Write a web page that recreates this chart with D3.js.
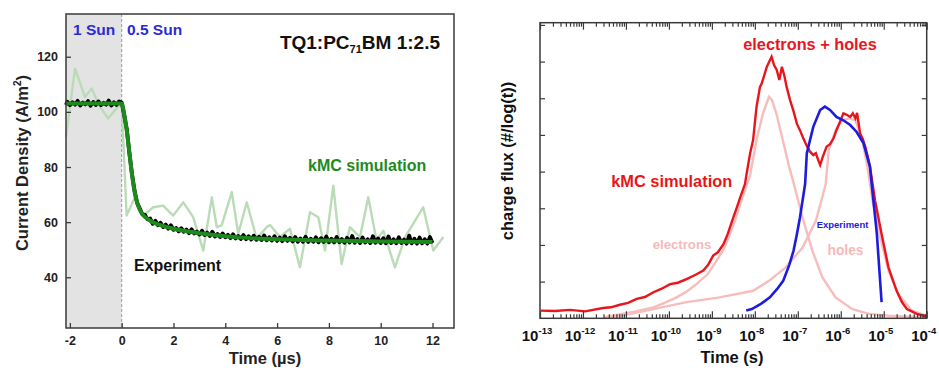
<!DOCTYPE html>
<html><head><meta charset="utf-8">
<script src="https://cdn.jsdelivr.net/npm/d3@7"></script>
<style>
body{margin:0;background:#fff;}
text{font-family:"Liberation Sans",Arial,sans-serif;font-weight:bold;}
</style></head>
<body><svg id="c" width="939" height="368"></svg>
<script>
// ---------- LEFT PANEL DATA ----------
const leftXTicks = [-2, 0, 2, 4, 6, 8, 10, 12];
const leftYTicks = [40, 60, 80, 100, 120];
// Experiment (time µs, current density A/m²)
const experiment = [
[-2.15,102.5],[-2.1,103.7],[-2.0,102.4],[-1.9,103.5],[-1.8,102.6],[-1.7,104.0],[-1.6,102.3],[-1.5,103.4],[-1.4,102.7],[-1.3,103.9],[-1.2,102.2],
[-1.1,103.6],[-1.0,102.5],[-0.9,103.8],[-0.8,102.4],[-0.7,103.3],[-0.6,102.6],[-0.5,104.1],[-0.4,102.3],[-0.3,103.5],[-0.2,102.5],[-0.1,103.8],
[0.0,103.4],[0.1,98.6],[0.2,93.5],[0.3,84.8],[0.4,77.4],[0.5,71.2],[0.6,66.9],[0.7,64.9],[0.8,62.8],[0.9,62.6],[1.0,61.0],
[1.1,61.3],[1.2,59.4],[1.3,60.5],[1.4,58.9],[1.5,59.8],[1.6,58.2],[1.7,59.1],[1.8,57.6],[1.9,58.9],[2.0,57.2],
[2.1,57.9],[2.2,56.7],[2.3,57.8],[2.4,56.5],[2.5,57.3],[2.6,56.0],[2.7,57.4],[2.8,55.9],[2.9,56.6],[3.0,55.5],
[3.1,56.9],[3.2,55.3],[3.3,56.2],[3.4,55.0],[3.5,56.5],[3.6,54.8],[3.7,55.7],[3.8,54.6],[3.9,55.9],[4.0,54.5],
[4.1,55.4],[4.2,54.2],[4.3,55.6],[4.4,54.1],[4.5,55.0],[4.6,53.9],[4.7,55.3],[4.8,53.8],[4.9,54.9],[5.0,53.7],
[5.1,55.1],[5.2,53.6],[5.3,54.7],[5.4,53.5],[5.5,55.2],[5.6,53.4],[5.7,54.5],[5.8,53.3],[5.9,54.9],[6.0,53.2],
[6.1,54.4],[6.2,53.1],[6.3,54.9],[6.4,53.2],[6.5,54.3],[6.6,53.0],[6.7,54.6],[6.8,52.9],[6.9,54.1],[7.0,52.9],
[7.1,54.7],[7.2,52.8],[7.3,54.0],[7.4,52.9],[7.5,54.5],[7.6,52.7],[7.7,54.2],[7.8,52.8],[7.9,54.8],[8.0,52.7],
[8.1,54.0],[8.2,52.6],[8.3,54.6],[8.4,52.7],[8.5,53.9],[8.6,52.5],[8.7,54.3],[8.8,52.6],[8.9,55.0],[9.0,52.5],
[9.1,53.9],[9.2,52.4],[9.3,54.4],[9.4,52.6],[9.5,53.8],[9.6,52.4],[9.7,54.9],[9.8,52.5],[9.9,54.1],[10.0,52.4],
[10.1,54.2],[10.2,52.3],[10.3,54.8],[10.4,52.4],[10.5,53.8],[10.6,52.3],[10.7,54.5],[10.8,52.4],[10.9,53.7],[11.0,52.2],
[11.1,55.1],[11.2,52.3],[11.3,54.0],[11.4,52.2],[11.5,54.4],[11.6,52.3],[11.7,53.8],[11.8,52.2],[11.9,54.6],[12.0,52.4]
];
// Smooth fit (green)
const fitT = [-2.15, 0, 0.1, 0.2, 0.3, 0.4, 0.5, 0.6, 0.7, 0.85, 1.0, 1.2, 1.5, 2, 2.5, 3, 3.5, 4, 5, 6, 7, 8, 10, 12];
const fitV = [103, 103, 99, 93, 85, 77, 71, 67, 64.5, 62.3, 61.2, 60, 58.9, 57.6, 56.7, 56, 55.4, 54.9, 54.2, 53.8, 53.5, 53.3, 53, 52.8];
// kMC simulation (light green)
const kmcT = [-2.15,-1.80,-1.42,-1.16,-0.84,-0.52,-0.26,0,0.19,0.51,0.83,1.22,1.6,1.99,2.38,2.76,3.15,3.48,3.67,3.86,4.25,4.5,4.83,5.21,5.6,5.73,6.11,6.5,6.88,7.27,7.59,7.85,8.17,8.49,8.81,9.2,9.52,9.84,10.1,10.55,10.94,11.26,11.64,12.03,12.42];
const kmcV = [91,115.7,105.4,108.5,101.8,97.6,100.6,103,62.4,69,62.4,65.4,66,62.4,67.2,61.8,49.7,69,58.2,58.8,70.9,55.8,67.2,54,58.2,59,54.6,57.6,43.6,63.6,61.8,49.7,73.2,44.8,58.2,54.6,69,53.3,56.9,43.6,54.6,59.5,65.4,49.7,54.6];

// ---------- RIGHT PANEL DATA ----------
const rightXExps = [-13, -12, -11, -10, -9, -8, -7, -6, -5, -4];
const rightYTicks = [1, 2, 3, 4, 5, 6, 7, 8];
// log10(time/s), flux
const totalLogT = [-12.98,-12.65,-12.30,-11.95,-11.53,-11.35,-11.14,-10.95,-10.75,-10.56,-10.36,-10.18,-9.97,-9.79,-9.59,-9.39,-9.2,-9.09,-8.97,-8.86,-8.73,-8.63,-8.5,-8.41,-8.34,-8.23,-8.19,-8.11,-8.04,-7.96,-7.88,-7.84,-7.72,-7.61,-7.55,-7.49,-7.43,-7.37,-7.31,-7.26,-7.18,-7.1,-7.02,-6.95,-6.87,-6.79,-6.72,-6.64,-6.58,-6.52,-6.48,-6.42,-6.33,-6.25,-6.17,-6.1,-6.02,-5.94,-5.86,-5.78,-5.72,-5.66,-5.62,-5.55,-5.49,-5.43,-5.37,-5.32,-5.2,-5.05,-4.89,-4.7,-4.58,-4.46,-4.23,-4.0];
const totalV = [0.21,0.2,0.23,0.19,0.28,0.3,0.37,0.42,0.53,0.58,0.71,0.8,0.93,0.97,1.07,1.18,1.3,1.45,1.71,1.8,2.02,2.3,2.75,3.05,3.3,3.66,3.95,4.5,4.86,5.77,6.31,6.4,6.86,7.13,6.9,6.77,6.5,6.86,6.6,6.31,5.95,5.65,5.3,5.13,4.9,4.7,4.55,4.45,4.5,4.3,4.18,4.4,4.68,4.75,4.9,5.13,5.35,5.59,5.55,5.49,5.59,5.45,5.6,5.04,4.9,4.68,4.4,4.13,3.2,2.3,1.39,0.75,0.45,0.25,0.12,0.05];
const electronsLogT = [-11.5,-10.8,-10.36,-10.1,-9.82,-9.6,-9.36,-9.1,-8.89,-8.72,-8.58,-8.45,-8.34,-8.2,-8.11,-7.96,-7.81,-7.67,-7.6,-7.5,-7.35,-7.2,-7.09,-6.89,-6.66,-6.43,-6.12,-5.73,-5.34,-4.88,-4.5,-4.0];
const electronsV = [0.03,0.18,0.3,0.42,0.57,0.72,0.93,1.2,1.57,1.9,2.3,2.7,3.11,3.6,3.9,4.86,5.59,6.04,5.95,5.59,4.86,4.13,3.66,2.75,1.84,1.12,0.57,0.25,0.12,0.07,0.05,0.03];
const holesLogT = [-11.5,-11.06,-10.36,-9.59,-8.82,-8.04,-7.67,-7.28,-6.89,-6.58,-6.43,-6.35,-6.28,-6.12,-5.97,-5.81,-5.66,-5.5,-5.38,-5.26,-5.08,-4.89,-4.66,-4.35,-4.0];
const holesV = [0.03,0.08,0.25,0.44,0.57,0.75,1.02,1.39,1.93,2.66,3.3,3.66,4.59,5.13,5.4,5.45,5.4,4.86,4.13,3.2,2.2,1.3,0.66,0.21,0.07];
const expLogT = [-8.2,-8.07,-7.85,-7.65,-7.48,-7.34,-7.2,-7.1,-7.02,-6.95,-6.83,-6.79,-6.64,-6.48,-6.37,-6.25,-6.1,-5.94,-5.78,-5.63,-5.47,-5.32,-5.28,-5.16,-5.05];
const expV = [0.21,0.25,0.4,0.57,0.8,1.02,1.45,1.84,2.3,2.75,3.66,4.5,5.22,5.68,5.77,5.68,5.49,5.4,5.27,5.08,4.77,4.13,3.66,2.3,0.44];

const svg = d3.select("#c");
const frameColor = "#3a3a3a";

// ================= LEFT PANEL =================
const lx = d3.scaleLinear().domain([-2.15, 12.83]).range([66, 454]);
const ly = d3.scaleLinear().domain([21.6, 135.5]).range([328, 14]);
const L = svg.append("g");

L.append("rect").attr("x", lx(-2.15)).attr("y", ly(135.5))
  .attr("width", lx(0) - lx(-2.15)).attr("height", ly(21.6) - ly(135.5)).attr("fill", "#e3e3e3");
L.append("line").attr("x1", lx(0)).attr("x2", lx(0)).attr("y1", ly(135.5)).attr("y2", ly(21.6))
  .attr("stroke", "#9a9a9a").attr("stroke-width", 1).attr("stroke-dasharray", "3,2");

const xyLine = (xs, ys) => d3.line().x(d => xs(d[0])).y(d => ys(d[1]));

L.append("path").datum(kmcT.map((t, i) => [t, kmcV[i]]))
  .attr("d", xyLine(lx, ly)).attr("fill", "none").attr("stroke", "#b9dcb6").attr("stroke-width", 2.4)
  .attr("stroke-linejoin", "round");
L.append("path").datum(experiment).attr("d", xyLine(lx, ly))
  .attr("fill", "none").attr("stroke", "#000").attr("stroke-width", 3.8).attr("stroke-linejoin", "round");
L.append("path").datum(experiment).attr("d", xyLine(lx, ly))
  .attr("fill", "none").attr("stroke", "#000").attr("stroke-width", 1).attr("stroke-linejoin", "bevel");
L.append("path").datum(fitT.map((t, i) => [t, fitV[i]]))
  .attr("d", d3.line().x(d => lx(d[0])).y(d => ly(d[1])).curve(d3.curveMonotoneX))
  .attr("fill", "none").attr("stroke", "#1e8a1e").attr("stroke-width", 4);

L.append("rect").attr("x", 66).attr("y", 14).attr("width", 388).attr("height", 314)
  .attr("fill", "none").attr("stroke", frameColor).attr("stroke-width", 1.5);

const lxAxis = L.append("g").attr("transform", "translate(0,328)")
  .call(d3.axisBottom(lx).tickValues(leftXTicks).tickSize(-5).tickPadding(8).tickFormat(d => String(d)));
const lyAxis = L.append("g").attr("transform", "translate(66,0)")
  .call(d3.axisLeft(ly).tickValues(leftYTicks).tickSize(-5).tickPadding(8).tickFormat(d => String(d)));
[lxAxis, lyAxis].forEach(a => {
  a.select(".domain").remove();
  a.selectAll(".tick line").attr("stroke", frameColor).attr("stroke-width", 1.3);
  a.selectAll(".tick text").attr("font-size", 12.5).attr("fill", "#222").style("font-family", '"Liberation Sans",Arial,sans-serif').style("font-weight", "bold");
});

L.append("text").attr("x", 265).attr("y", 364).attr("text-anchor", "middle").attr("font-size", 16.5).attr("fill", "#222").text("Time (µs)");
const ylab = L.append("text").attr("transform", "translate(28,163) rotate(-90)").attr("text-anchor", "middle")
  .attr("font-size", 16.5).attr("fill", "#222");
ylab.append("tspan").text("Current Density (A/m");
ylab.append("tspan").attr("font-size", 10).attr("dy", -7).text("2");
ylab.append("tspan").attr("dy", 7).text(")");

L.append("text").attr("x", 73).attr("y", 35).attr("font-size", 15.5).attr("fill", "#2b2bd6").text("1 Sun");
L.append("text").attr("x", 127).attr("y", 35).attr("font-size", 15.5).attr("fill", "#2b2bd6").text("0.5 Sun");
const title = L.append("text").attr("x", 440).attr("y", 49).attr("text-anchor", "end").attr("font-size", 19).attr("fill", "#111");
title.append("tspan").text("TQ1:PC");
title.append("tspan").attr("font-size", 11).attr("dy", 4).text("71");
title.append("tspan").attr("dy", -4).text("BM 1:2.5");
L.append("text").attr("x", 308).attr("y", 170.5).attr("font-size", 16).attr("fill", "#1e8a1e").text("kMC simulation");
L.append("text").attr("x", 134).attr("y", 271).attr("font-size", 16).attr("fill", "#111").text("Experiment");

// ================= RIGHT PANEL =================
const rx = d3.scaleLog().domain([1e-13, 1e-4]).range([540, 926.7]);
const ry = d3.scaleLinear().domain([0, 8.06]).range([318.3, 22.7]);
const R = svg.append("g");
const lineLog = d3.line().x(d => rx(Math.pow(10, d[0]))).y(d => ry(d[1]));

R.append("path").datum(electronsLogT.map((t, i) => [t, electronsV[i]])).attr("d", lineLog)
  .attr("fill", "none").attr("stroke", "#f7bcbc").attr("stroke-width", 2.4);
R.append("path").datum(holesLogT.map((t, i) => [t, holesV[i]])).attr("d", lineLog)
  .attr("fill", "none").attr("stroke", "#f7bcbc").attr("stroke-width", 2.4);
R.append("path").datum(totalLogT.map((t, i) => [t, totalV[i]])).attr("d", lineLog)
  .attr("fill", "none").attr("stroke", "#e8161c").attr("stroke-width", 2.4);
R.append("path").datum(expLogT.map((t, i) => [t, expV[i]])).attr("d", lineLog)
  .attr("fill", "none").attr("stroke", "#1c1ce0").attr("stroke-width", 2.6);

R.append("rect").attr("x", 540).attr("y", 22.7).attr("width", 386.7).attr("height", 295.6)
  .attr("fill", "none").attr("stroke", frameColor).attr("stroke-width", 1.5);

const majors = rightXExps.map(e => Math.pow(10, e));
const minors = [];
rightXExps.slice(0, -1).forEach(e => { for (let m = 2; m <= 9; m++) minors.push(m * Math.pow(10, e)); });

function styleAxis(a) {
  a.select(".domain").remove();
  a.selectAll(".tick line").attr("stroke", frameColor).attr("stroke-width", 1.2);
}
styleAxis(R.append("g").attr("transform", "translate(0,318.3)")
  .call(d3.axisBottom(rx).tickValues(majors).tickSize(-7).tickFormat("")));
styleAxis(R.append("g").attr("transform", "translate(0,318.3)")
  .call(d3.axisBottom(rx).tickValues(minors).tickSize(-4).tickFormat("")));
styleAxis(R.append("g").attr("transform", "translate(0,22.7)")
  .call(d3.axisTop(rx).tickValues(majors).tickSize(-7).tickFormat("")));
styleAxis(R.append("g").attr("transform", "translate(0,22.7)")
  .call(d3.axisTop(rx).tickValues(minors).tickSize(-4).tickFormat("")));
styleAxis(R.append("g").attr("transform", "translate(540,0)")
  .call(d3.axisLeft(ry).tickValues(rightYTicks).tickSize(-5).tickFormat("")));
styleAxis(R.append("g").attr("transform", "translate(926.7,0)")
  .call(d3.axisRight(ry).tickValues(rightYTicks).tickSize(-5).tickFormat("")));

R.append("g").selectAll("text").data(rightXExps).join("text")
  .attr("x", e => rx(Math.pow(10, e)) - 3).attr("y", 340.5).attr("text-anchor", "middle")
  .attr("font-size", 15).attr("fill", "#111")
  .each(function (e) {
    const t = d3.select(this);
    t.append("tspan").text("10");
    t.append("tspan").attr("font-size", 9.5).attr("dy", -7).text(String(e));
  });

R.append("text").attr("x", 732).attr("y", 363).attr("text-anchor", "middle").attr("font-size", 16.5).attr("fill", "#111").text("Time (s)");
R.append("text").attr("transform", "translate(513,161) rotate(-90)").attr("text-anchor", "middle")
  .attr("font-size", 16.5).attr("fill", "#111").text("charge flux (#/log(t))");

R.append("text").attr("x", 810).attr("y", 50).attr("text-anchor", "middle").attr("font-size", 16.3).attr("fill", "#e8161c").text("electrons + holes");
R.append("text").attr("x", 671.7).attr("y", 187).attr("text-anchor", "middle").attr("font-size", 16.4).attr("fill", "#e8161c").text("kMC simulation");
R.append("text").attr("x", 682).attr("y", 249).attr("text-anchor", "middle").attr("font-size", 13.2).attr("fill", "#f5b9b9").text("electrons");
R.append("text").attr("x", 845.5).attr("y", 254.5).attr("text-anchor", "middle").attr("font-size", 13.8).attr("fill", "#f5b9b9").text("holes");
R.append("text").attr("x", 842.5).attr("y", 228).attr("text-anchor", "middle").attr("font-size", 9.5).attr("fill", "#1c1ce0").text("Experiment");
</script></body></html>
